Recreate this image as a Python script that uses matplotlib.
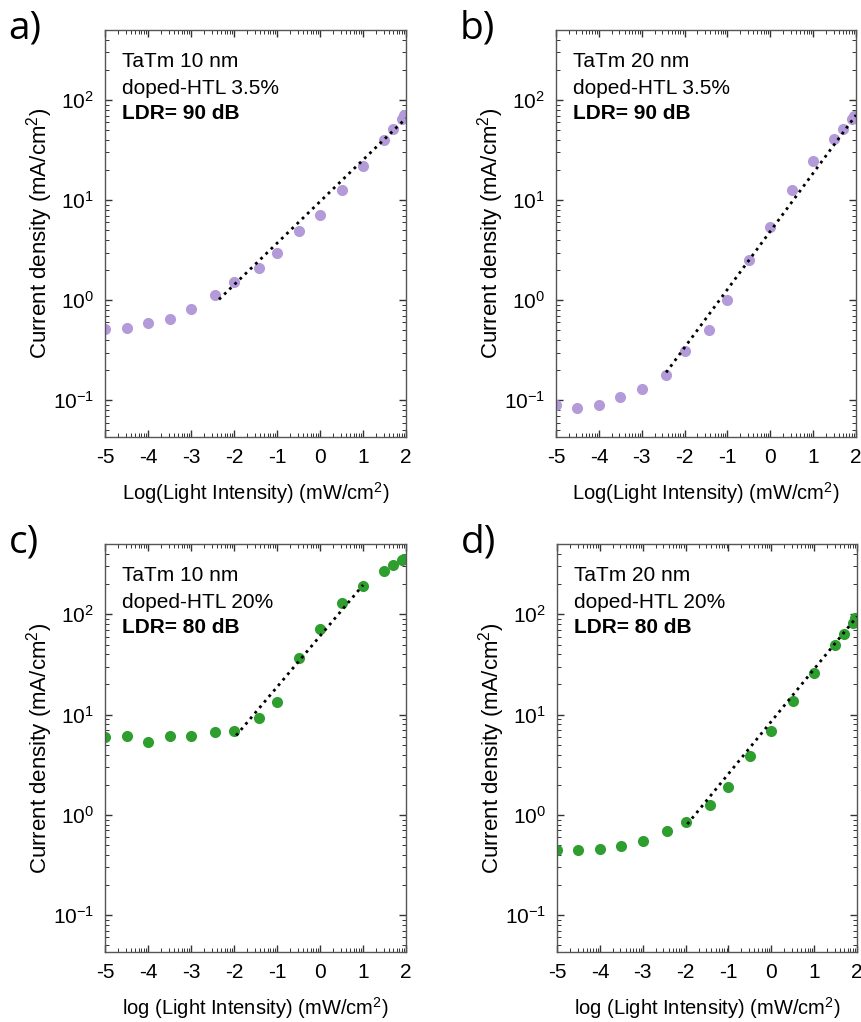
import numpy as np
import matplotlib
matplotlib.use("Agg")
import matplotlib.pyplot as plt
from matplotlib.ticker import LogLocator, FixedLocator, NullFormatter

plt.rcParams['font.family'] = ['Liberation Sans', 'DejaVu Sans']
plt.rcParams['mathtext.fontset'] = 'custom'
plt.rcParams['mathtext.rm'] = 'Liberation Sans'
plt.rcParams['mathtext.it'] = 'Liberation Sans:italic'
plt.rcParams['mathtext.bf'] = 'Liberation Sans:bold'
plt.rcParams['axes.unicode_minus'] = False

# log(light intensity) values
x_light = [-5, -4.5, -4, -3.5, -3, -2.44, -2, -1.43, -1, -0.5, 0, 0.5, 1, 1.48, 1.7, 1.9, 1.96]

# current density (mA/cm2)
j_a = [0.52, 0.53, 0.59, 0.645, 0.81, 1.13, 1.51, 2.11, 2.96, 4.92, 7.1, 12.6, 21.9, 40, 51, 65, 71]
j_b = [0.09, 0.083, 0.09, 0.107, 0.13, 0.18, 0.31, 0.51, 1.0, 2.5, 5.4, 12.6, 24.4, 40.7, 51.5, 64.7, 70]
j_c = [5.98, 6.07, 5.29, 6.07, 6.1, 6.76, 6.92, 9.26, 13.5, 36.3, 70.8, 129, 192, 271, 307, 349, 358]
j_d = [0.447, 0.447, 0.457, 0.486, 0.55, 0.69, 0.845, 1.25, 1.92, 3.83, 6.92, 13.7, 26.1, 49.3, 63, 82.5, 91]

# linear fit segments (endpoints)
fit_a_x, fit_a_y = [-2.35, 2.0], [1.02, 66]
fit_b_x, fit_b_y = [-2.43, 2.0], [0.19, 71]
fit_c_x, fit_c_y = [-1.95, 1.0], [6.2, 196]
fit_d_x, fit_d_y = [-1.96, 2.0], [0.81, 95]

labels_a = ["TaTm 10 nm", "doped-HTL 3.5%", "LDR= 90 dB"]
labels_b = ["TaTm 20 nm", "doped-HTL 3.5%", "LDR= 90 dB"]
labels_c = ["TaTm 10 nm", "doped-HTL 20%", "LDR= 80 dB"]
labels_d = ["TaTm 20 nm", "doped-HTL 20%", "LDR= 80 dB"]

purple = '#b39ad9'
green = '#2e9e2e'

fig = plt.figure(figsize=(8.61, 10.22), dpi=100)

panels = [
    ("a)", [0.122, 0.5724, 0.3496, 0.398], j_a, fit_a_x, fit_a_y, labels_a, purple,
     "Log(Light Intensity) (mW/cm$^2$)"),
    ("b)", [0.6458, 0.5724, 0.3484, 0.398], j_b, fit_b_x, fit_b_y, labels_b, purple,
     "Log(Light Intensity) (mW/cm$^2$)"),
    ("c)", [0.122, 0.0685, 0.3496, 0.399], j_c, fit_c_x, fit_c_y, labels_c, green,
     "log (Light Intensity) (mW/cm$^2$)"),
    ("d)", [0.647, 0.0685, 0.3484, 0.399], j_d, fit_d_x, fit_d_y, labels_d, green,
     "log (Light Intensity) (mW/cm$^2$)"),
]

minor_x = [i + np.log10(k) for i in range(-5, 2) for k in range(2, 10)]

for tag, rect, jv, fx, fy, texts, col, xlab in panels:
    ax = fig.add_axes(rect)
    ax.plot(x_light, jv, 'o', color=col, markersize=8, markeredgewidth=0, zorder=2)
    ax.plot(fx, fy, color='black', linestyle=(0, (1, 1.6)), linewidth=2, zorder=3)
    ax.set_yscale('log')
    ax.set_xlim(-5, 2)
    ax.set_ylim(0.043, 500)
    ax.set_xticks(range(-5, 3))
    ax.xaxis.set_minor_locator(FixedLocator(minor_x))
    ax.yaxis.set_major_locator(FixedLocator([0.1, 1, 10, 100]))
    ax.yaxis.set_minor_locator(LogLocator(base=10, subs=np.arange(2, 10)))
    ax.yaxis.set_minor_formatter(NullFormatter())
    ax.tick_params(which='both', direction='in', top=True, right=True,
                   labelsize=15, color='#333333')
    ax.tick_params(which='major', length=5, width=1, pad=8)
    ax.tick_params(which='minor', length=3, width=0.7)
    for s in ax.spines.values():
        s.set_color('#555555')
        s.set_linewidth(1)
    ax.set_ylabel("Current density (mA/cm$^2$)", fontsize=16, labelpad=-2)
    ax.set_xlabel(xlab, fontsize=14.5, labelpad=9)
    ax.text(0.057, 0.924, texts[0], transform=ax.transAxes, fontsize=15, va='center')
    ax.text(0.057, 0.858, texts[1], transform=ax.transAxes, fontsize=15, va='center')
    ax.text(0.057, 0.796, texts[2], transform=ax.transAxes, fontsize=15,
            va='center', fontweight='bold')
    fx0 = rect[0] - 0.112
    fy0 = rect[1] + rect[3] + 0.002
    fig.text(fx0, fy0, tag, fontsize=28, family=['Open Sans', 'DejaVu Sans'], va='center')

fig.savefig("out.png", dpi=100)
